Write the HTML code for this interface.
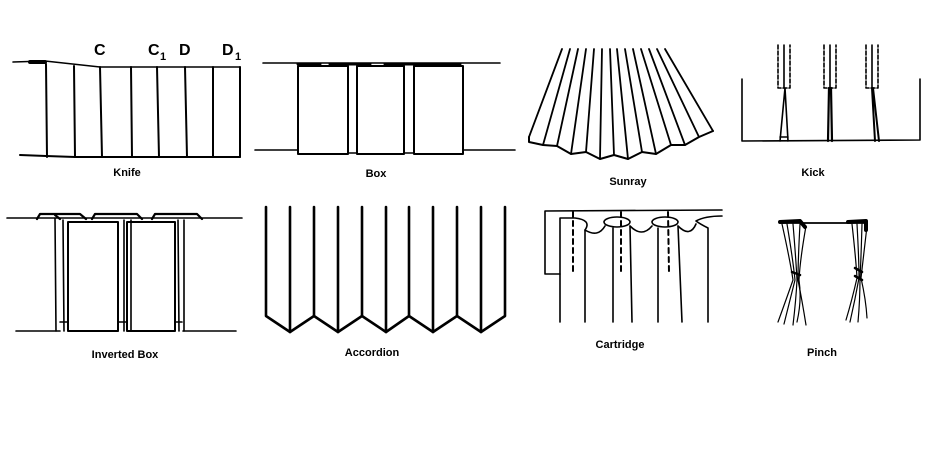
<!DOCTYPE html>
<html><head><meta charset="utf-8"><style>
html,body{margin:0;padding:0;background:#fff;}
svg{display:block;}
text{font-family:"Liberation Sans",Arial,sans-serif;font-weight:bold;fill:#000;}
</style></head><body>
<svg width="930" height="450" viewBox="0 0 930 450" xmlns="http://www.w3.org/2000/svg">
<g stroke="#000" fill="none" stroke-width="1.6" stroke-linecap="round" stroke-linejoin="round">
<!-- Knife -->
<polyline points="13,62 45,61 100,67 240,67"/>
<path d="M20,155 L46,156 L75,157 L101,157 L240,157" stroke-width="2"/>
<path d="M45,62 L30,62" stroke-width="4"/>
<path d="M46,64 L47,157 M74,66 L75,157 M100,67 L102,157 M131,67 L132,157 M157,67 L159,157 M185,67 L187,157 M213,67 L213,157 M240,67 L240,157" stroke-width="2"/>
<!-- Box -->
<line x1="263" y1="63" x2="500" y2="63"/>
<path d="M255,150 L298,150 M463,150 L515,150 M348,153 L357,153 M404,153 L414,153"/>
<rect x="298" y="66" width="50" height="88" stroke-width="2"/>
<rect x="357" y="66" width="47" height="88" stroke-width="2"/>
<rect x="414" y="66" width="49" height="88" stroke-width="2"/>
<path d="M298,64 L320,64 M330,64 L370,64 M385,64 L460,64" stroke-width="3"/>
<!-- Sunray -->
<g stroke-width="1.8">
<line x1="562" y1="49" x2="529" y2="137"/><line x1="570" y1="49" x2="543" y2="145"/>
<line x1="578" y1="49" x2="557" y2="146"/><line x1="586" y1="49" x2="571" y2="154"/>
<line x1="594" y1="49" x2="586" y2="152"/><line x1="602" y1="49" x2="600" y2="159"/>
<line x1="610" y1="49" x2="614" y2="155"/><line x1="617" y1="49" x2="628" y2="159"/>
<line x1="625" y1="49" x2="642" y2="152"/><line x1="633" y1="49" x2="656" y2="154"/>
<line x1="641" y1="49" x2="671" y2="145"/><line x1="649" y1="49" x2="685" y2="145"/>
<line x1="657" y1="49" x2="699" y2="137"/><line x1="665" y1="49" x2="713" y2="131"/>
<polyline points="529,137 529,142 543,145 557,146 571,154 586,152 600,159 614,155 628,159 642,152 656,154 671,145 685,145 699,137 713,131" stroke-width="2"/>
</g>
<!-- Kick -->
<path d="M742,79 L742,141 L920,140 L920,79"/>
<g stroke-dasharray="4,2">
<path d="M778,45 L778,88 L790,88 L790,45"/>
<path d="M824,45 L824,88 L836,88 L836,45"/>
<path d="M866,45 L866,88 L878,88 L878,45"/>
</g>
<path d="M784,45 L784,88 M830,45 L830,88 M872,45 L872,88"/>
<path d="M785,88 L780,141 M785,88 L788,141 M780,137 L788,137"/>
<path d="M829,88 L828,141 M831,88 L832,141" stroke-width="2.2"/>
<path d="M872,88 L875,141 M873,88 L879,141" stroke-width="2"/>
<!-- Inverted box -->
<line x1="7" y1="218" x2="242" y2="218"/>
<path d="M16,331 L60,331 M236,331 L183,331 M69,331 L118,331"/>
<path d="M55,218 L56,331 M63,220 L64,331 M60,322 L68,322 M119,322 L127,322 M176,322 L182,322 M124,220 L124,331 M131,220 L131,331 M178,220 L179,331 M184,220 L184,331"/>
<rect x="68" y="222" width="50" height="109" stroke-width="2"/>
<rect x="127" y="222" width="48" height="109" stroke-width="2"/>
<path d="M37,219 L40,214 L80,214 L86,219 M60,219 L55,215 M92,219 L95,214 L137,214 L142,219 M152,219 L155,214 L197,214 L202,219" stroke-width="2.2"/>
<!-- Accordion -->
<g stroke-width="2.6">
<path d="M266,207 L266,316 L290,332 L314,316 L338,332 L362,316 L386,332 L409,316 L433,332 L457,316 L481,332 L505,316 L505,207"/>
<path d="M290,207 L290,332 M314,207 L314,316 M338,207 L338,332 M362,207 L362,316 M386,207 L386,332 M409,207 L409,316 M433,207 L433,332 M457,207 L457,316 M481,207 L481,332"/>
</g>
<!-- Cartridge -->
<path d="M722,210 L545,211 L545,274 L560,274"/>
<path d="M560,322 L560,218 L575,218 Q592,220 585,230"/>
<path d="M585,322 L585,230 Q598,238 605,226"/>
<ellipse cx="617" cy="222" rx="13" ry="5"/>
<path d="M613,322 L613,228 M632,322 L630,226"/>
<path d="M630,226 Q642,238 652,226"/>
<ellipse cx="665" cy="222" rx="13" ry="5"/>
<path d="M658,322 L658,228 M682,322 L678,226"/>
<path d="M678,226 Q690,238 696,224"/>
<path d="M708,322 L708,228 Q700,224 696,221 Q705,216 722,216"/>
<g stroke-dasharray="5,4" stroke-width="2">
<path d="M573,212 L573,275 M621,212 L621,275 M668,212 L669,272"/>
</g>
<!-- Pinch -->
<path d="M782,223 L867,223" stroke-width="1.8"/>
<path d="M780,222 L800,221 L805,227" stroke-width="4"/>
<path d="M848,222 L866,221 L866,230" stroke-width="4"/>
<g stroke-width="1.2">
<path d="M782,224 Q790,260 793,280 Q786,300 778,322"/>
<path d="M787,224 Q793,260 795,280 Q790,300 784,324"/>
<path d="M793,224 Q796,260 797,280 Q796,300 793,325"/>
<path d="M800,224 Q798,260 798,280 Q802,300 806,325"/>
<path d="M806,226 Q800,260 799,280 Q802,300 797,322"/>
<path d="M852,224 Q856,260 857,278 Q852,300 846,320"/>
<path d="M857,224 Q859,260 859,278 Q855,300 850,322"/>
<path d="M862,224 Q861,260 860,278 Q860,300 858,322"/>
<path d="M867,226 Q863,260 861,278 Q866,300 867,318"/>
</g>
<path d="M792,272 L800,275 M855,268 L862,272 M855,276 L862,280" stroke-width="2.5"/>
</g>
<g font-size="11">
<text x="127" y="176" text-anchor="middle">Knife</text>
<text x="376" y="177" text-anchor="middle">Box</text>
<text x="628" y="185" text-anchor="middle">Sunray</text>
<text x="813" y="176" text-anchor="middle">Kick</text>
<text x="125" y="358" text-anchor="middle">Inverted Box</text>
<text x="372" y="356" text-anchor="middle">Accordion</text>
<text x="620" y="348" text-anchor="middle">Cartridge</text>
<text x="822" y="356" text-anchor="middle">Pinch</text>
</g>
<g font-size="16">
<text x="94" y="55">C</text>
<text x="148" y="55">C</text><text x="160" y="60" font-size="11">1</text>
<text x="179" y="55">D</text>
<text x="222" y="55">D</text><text x="235" y="60" font-size="11">1</text>
</g>
</svg>
</body></html>
